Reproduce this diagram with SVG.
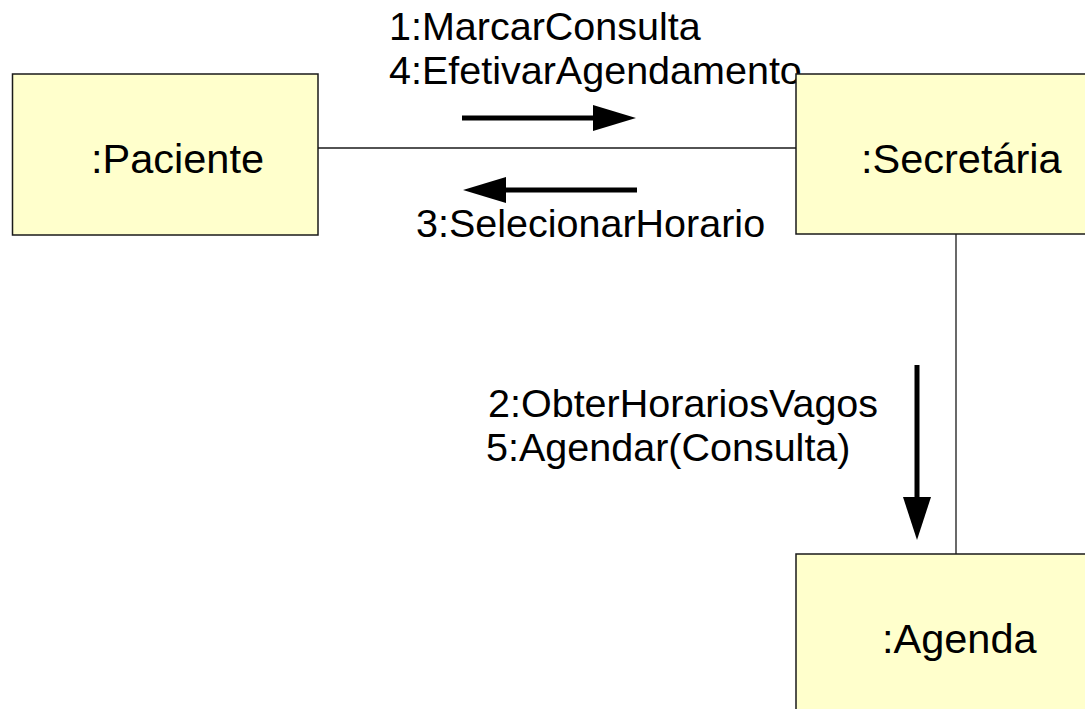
<svg xmlns="http://www.w3.org/2000/svg" width="1085" height="709" viewBox="0 0 1085 709">
  <defs>
    <style>
      .box { fill: #ffffcc; stroke: #1a1a1a; stroke-width: 1.5; }
      .name { font-family: "Liberation Sans", Arial, sans-serif; font-size: 41.5px; fill: #000; }
      .lbl { font-family: "Liberation Sans", Arial, sans-serif; font-size: 39.5px; fill: #000; }
      .link { stroke: #1a1a1a; stroke-width: 1.3; fill: none; }
      .msg { stroke: #000; stroke-width: 5; fill: none; }
      .head { fill: #000; stroke: none; }
    </style>
  </defs>
  <rect width="1085" height="709" fill="#ffffff"/>

  <g id="connectors">
    <line class="link" x1="318" y1="148" x2="796" y2="148"/>
    <line class="link" x1="956" y1="234" x2="956" y2="554"/>
    <line class="msg" x1="462" y1="118" x2="596" y2="118"/>
    <polygon class="head" points="593,105 636,118 593,131"/>
    <line class="msg" x1="637" y1="190" x2="503" y2="190"/>
    <polygon class="head" points="506,177 463,190 506,203"/>
    <line class="msg" x1="917" y1="365" x2="917" y2="500"/>
    <polygon class="head" points="903,497 917,540 931,497"/>
    <text class="lbl" x="389" y="40">1:MarcarConsulta</text>
    <text class="lbl" x="389" y="84">4:EfetivarAgendamento</text>
    <text class="lbl" x="416" y="237">3:SelecionarHorario</text>
    <text class="lbl" x="488" y="417">2:ObterHorariosVagos</text>
    <text class="lbl" x="486" y="461">5:Agendar(Consulta)</text>
  </g>

  <g id="paciente">
    <rect class="box" x="12.5" y="74" width="305.5" height="161"/>
    <text class="name" x="91" y="173">:Paciente</text>
  </g>

  <g id="secretaria">
    <rect class="box" x="796" y="74" width="320" height="160"/>
    <text class="name" x="861" y="173">:Secretária</text>
  </g>

  <g id="agenda">
    <rect class="box" x="796" y="554" width="320" height="200"/>
    <text class="name" x="882" y="653">:Agenda</text>
  </g>
</svg>
